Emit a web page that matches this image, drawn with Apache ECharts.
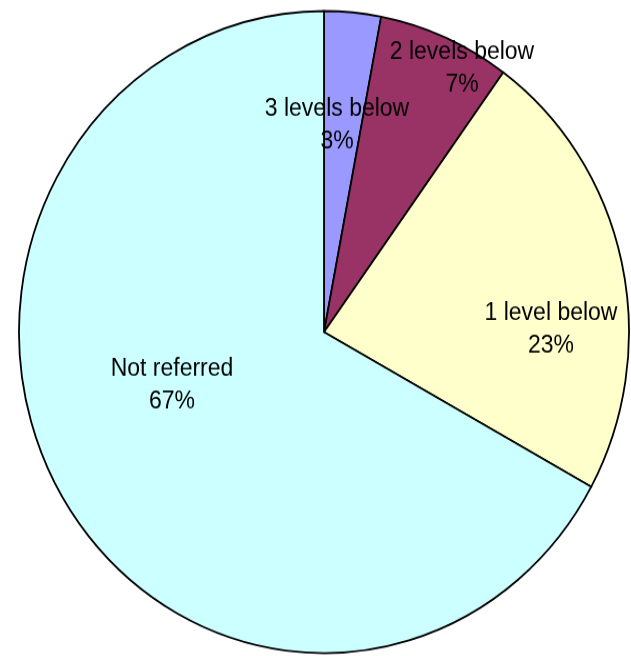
<!DOCTYPE html>
<html>
<head>
<meta charset="utf-8">
<script src="https://cdn.jsdelivr.net/npm/echarts@6/dist/echarts.min.js"></script>
<style>
  html, body { margin: 0; padding: 0; background: #ffffff; overflow: hidden; }
  #wrap { width: 631px; height: 656px; overflow: hidden; }
  /* the pie is drawn slightly taller than wide */
  #chart { width: 631px; height: 624px; transform: scaleY(1.0525); transform-origin: 0 0; }
</style>
</head>
<body>
<div id="wrap"><div id="chart"></div></div>
<script>
// Referral level shares (percent)
const categories = ['3 levels below', '2 levels below', '1 level below', 'Not referred'];
const shares = [3, 7, 23, 67];

// Slice fill colours, in category order
const sliceColors = ['#9999FF', '#993366', '#FFFFCC', '#CCFFFF'];
// Label anchor points (chart pixels, before the vertical stretch)
const labelAnchors = [[337, 119], [462, 65], [551, 313], [172, 366]];

const chart = echarts.init(document.getElementById('chart'), null, { renderer: 'canvas' });

chart.setOption({
  animation: false,
  backgroundColor: '#ffffff',
  series: [{
    type: 'pie',
    center: [324, 315.5],
    radius: 305,
    startAngle: 90,
    clockwise: true,
    avoidLabelOverlap: false,
    data: categories.map((name, i) => ({
      name: name,
      value: shares[i],
      itemStyle: { color: sliceColors[i] }
    })),
    itemStyle: { borderColor: '#000000', borderWidth: 1.8 },
    label: {
      show: true,
      position: 'inside',
      formatter: p => p.name + '\n' + p.value + '%',
      fontFamily: 'Liberation Sans, Arial, sans-serif',
      fontSize: 23,
      lineHeight: 31.5,
      color: '#000000',
      align: 'center',
      verticalAlign: 'middle'
    },
    labelLine: { show: false },
    labelLayout: p => ({
      x: labelAnchors[p.dataIndex][0],
      y: labelAnchors[p.dataIndex][1],
      align: 'center',
      verticalAlign: 'middle'
    }),
    emphasis: { disabled: true }
  }]
});
</script>
</body>
</html>
